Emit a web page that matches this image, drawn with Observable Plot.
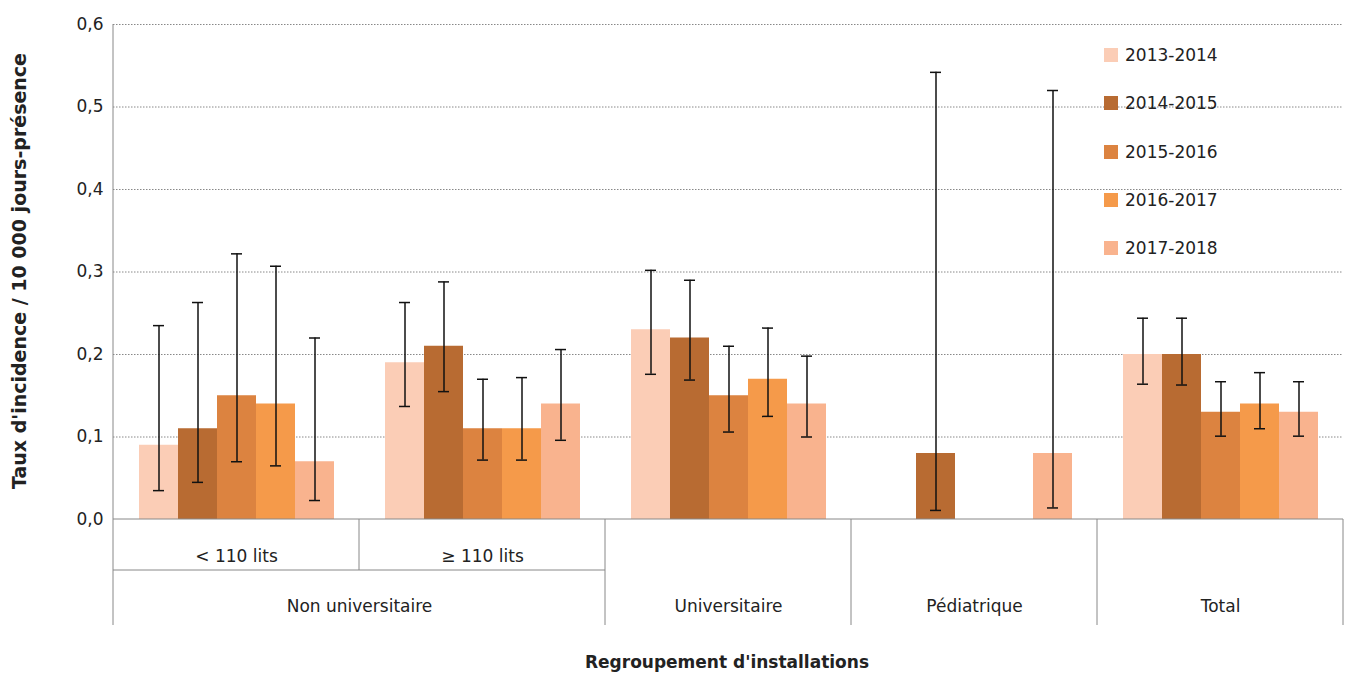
<!DOCTYPE html>
<html lang="fr">
<head>
<meta charset="utf-8">
<script src="https://cdn.jsdelivr.net/npm/d3@7"></script>
<script src="https://cdn.jsdelivr.net/npm/@observablehq/plot@0.6"></script>
<style>
  body { margin: 0; background: #fff; font-family: 'DejaVu Sans', sans-serif; }
  #wrap { position: relative; width: 1345px; height: 675px; }
  #legend { position: absolute; left: 1104px; top: 31px; font-size: 17px; color: #222; }
  #legend div { height: 48.3px; display: flex; align-items: center; }
  #legend span.sw { width: 14px; height: 14px; margin-right: 7px; display: inline-block; }
</style>
</head>
<body>
<div id="wrap"><div id="legend"></div></div>
<script>
  const groups = ["< 110 lits", "≥ 110 lits", "Universitaire", "Pédiatrique", "Total"];
  const years = ["2013-2014", "2014-2015", "2015-2016", "2016-2017", "2017-2018"];
  const colors = ["#FBCDB6", "#B86B32", "#DC8340", "#F59A4A", "#F9B38E"];
  const values = [
    [0.09, 0.11, 0.15, 0.14, 0.07],
    [0.19, 0.21, 0.11, 0.11, 0.14],
    [0.23, 0.22, 0.15, 0.17, 0.14],
    [null, 0.08, null, null, 0.08],
    [0.20, 0.20, 0.13, 0.14, 0.13]
  ];
  const lows = [
    [0.035, 0.045, 0.07, 0.065, 0.023],
    [0.137, 0.155, 0.072, 0.072, 0.096],
    [0.176, 0.169, 0.106, 0.125, 0.100],
    [null, 0.011, null, null, 0.014],
    [0.164, 0.163, 0.101, 0.110, 0.101]
  ];
  const highs = [
    [0.235, 0.263, 0.322, 0.307, 0.220],
    [0.263, 0.288, 0.170, 0.172, 0.206],
    [0.302, 0.290, 0.210, 0.232, 0.198],
    [null, 0.542, null, null, 0.520],
    [0.244, 0.244, 0.167, 0.178, 0.167]
  ];
  const yTicks = [0, 0.1, 0.2, 0.3, 0.4, 0.5, 0.6];

  const data = [];
  groups.forEach((g, i) => years.forEach((yr, j) => {
    if (values[i][j] != null) data.push({group: g, year: yr, value: values[i][j], lo: lows[i][j], hi: highs[i][j]});
  }));

  const font = "'DejaVu Sans', sans-serif";
  const plot = Plot.plot({
    width: 1345, height: 675,
    marginLeft: 113, marginRight: 2, marginTop: 24, marginBottom: 156,
    style: {fontFamily: font, fontSize: "17px", color: "#222", background: "#fff"},
    fx: {domain: groups, padding: 0, axis: null},
    x: {domain: years, paddingInner: 0, paddingOuter: 0.62, axis: null},
    y: {domain: [0, 0.6], ticks: yTicks, tickFormat: d => d.toFixed(1).replace(".", ","), tickSize: 0, tickPadding: 10, label: null},
    color: {domain: years, range: colors},
    marks: [
      Plot.gridY(yTicks.slice(1), {stroke: "#888", strokeOpacity: 1, strokeDasharray: "1.5,1.5"}),
      Plot.barY(data, {fx: "group", x: "year", y: "value", fill: "year"}),
      Plot.ruleX(data, {fx: "group", x: "year", y1: "lo", y2: "hi", stroke: "#111", strokeWidth: 1.5}),
      Plot.tickY(data, {fx: "group", x: "year", y: "lo", stroke: "#111", strokeWidth: 1.5, insetLeft: 14, insetRight: 14}),
      Plot.tickY(data, {fx: "group", x: "year", y: "hi", stroke: "#111", strokeWidth: 1.5, insetLeft: 14, insetRight: 14}),
      Plot.text([groups[0], groups[1]], {fx: d => d, text: d => d, frameAnchor: "bottom", dy: 42, fontSize: 17}),
      Plot.text([groups[2], groups[3], groups[4]], {fx: d => d, text: d => d, frameAnchor: "bottom", dy: 92, fontSize: 17}),
      Plot.text(["Non universitaire"], {fx: () => groups[0], text: d => d, frameAnchor: "bottom-right", textAnchor: "middle", dy: 92, fontSize: 17})
    ]
  });

  const svg = d3.select(plot);
  const fx = plot.scale("fx");
  const bw = fx.bandwidth;
  const xs = groups.map(g => fx.apply(g));
  const yb = 519;
  const g = svg.append("g").attr("stroke", "#888").attr("stroke-width", 1);
  g.append("line").attr("x1", 113).attr("x2", 113).attr("y1", 24).attr("y2", yb);
  g.append("line").attr("x1", 113).attr("x2", 1343).attr("y1", yb).attr("y2", yb);
  xs.forEach((x, i) => {
    g.append("line").attr("x1", x).attr("x2", x).attr("y1", yb).attr("y2", i === 1 ? 570 : 625);
  });
  g.append("line").attr("x1", xs[4] + bw).attr("x2", xs[4] + bw).attr("y1", yb).attr("y2", 625);
  g.append("line").attr("x1", xs[0]).attr("x2", xs[2]).attr("y1", 570).attr("y2", 570);
  svg.append("text").attr("transform", "translate(26,271) rotate(-90)").attr("text-anchor", "middle")
    .attr("font-weight", "bold").attr("font-size", 19).attr("fill", "#222").text("Taux d'incidence / 10 000 jours-présence");
  svg.append("text").attr("x", 727).attr("y", 668).attr("text-anchor", "middle")
    .attr("font-weight", "bold").attr("font-size", 17).attr("fill", "#222").text("Regroupement d'installations");

  document.getElementById("wrap").prepend(plot);
  const leg = d3.select("#legend");
  years.forEach((yr, i) => {
    const row = leg.append("div");
    row.append("span").attr("class", "sw").style("background", colors[i]);
    row.append("span").text(yr);
  });
</script>
</body>
</html>
